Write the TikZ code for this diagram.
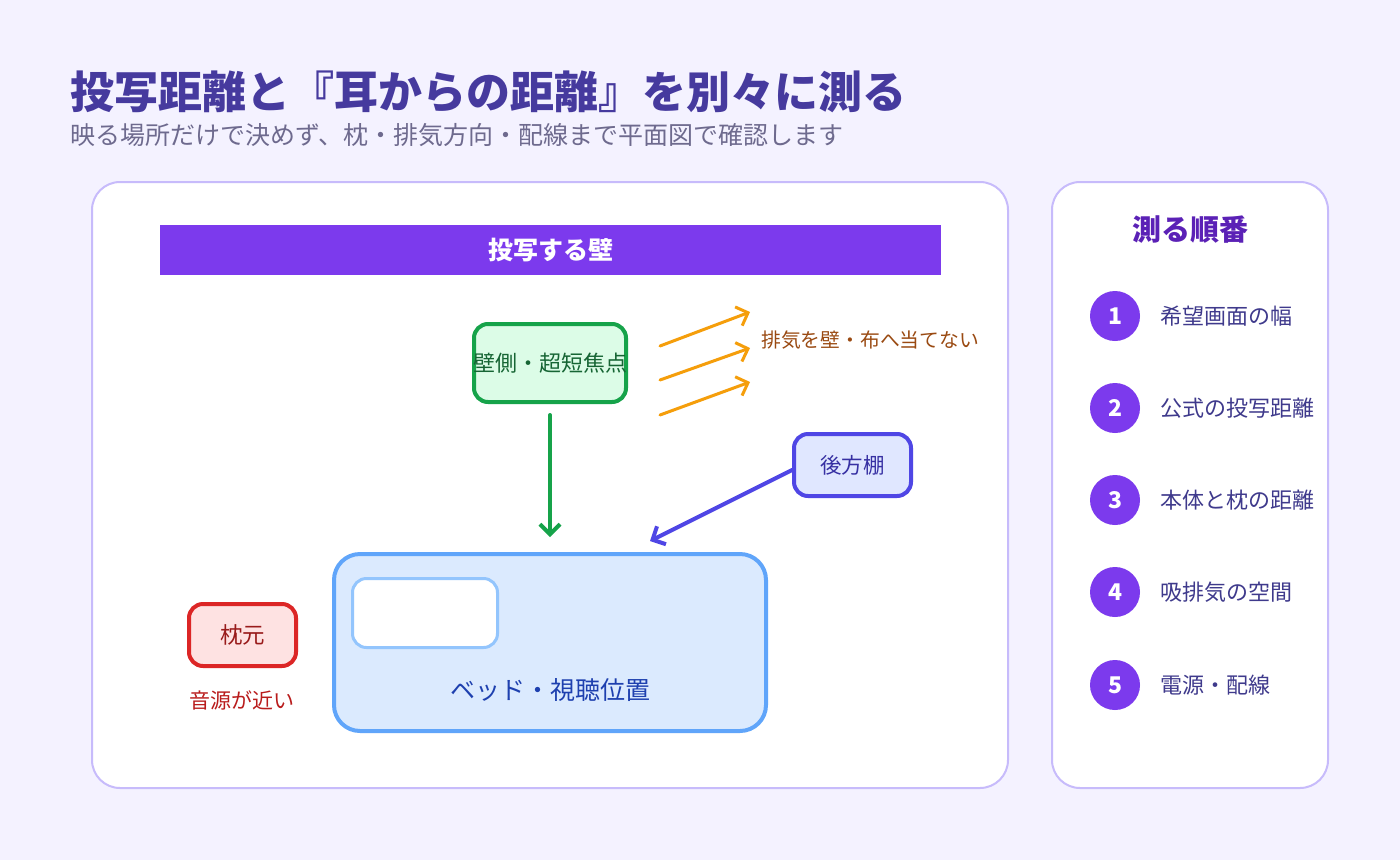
\documentclass[tikz,border=0pt]{standalone}
\usepackage{fontspec}
\setmainfont{Noto Sans CJK JP}
\usetikzlibrary{arrows.meta}
\definecolor{bgc}{HTML}{F4F2FF}
\definecolor{titlec}{HTML}{463A9E}
\definecolor{subc}{HTML}{6E6A8E}
\definecolor{panelc}{HTML}{C7BBFB}
\definecolor{wallc}{HTML}{7C3AED}
\definecolor{gfill}{HTML}{DCFCE7}
\definecolor{gline}{HTML}{16A34A}
\definecolor{gtext}{HTML}{166534}
\definecolor{oline}{HTML}{F59E0B}
\definecolor{otext}{HTML}{9A4A12}
\definecolor{bfill}{HTML}{E0E7FF}
\definecolor{bline}{HTML}{4F46E5}
\definecolor{btext}{HTML}{3730A3}
\definecolor{bedfill}{HTML}{DBEAFE}
\definecolor{bedline}{HTML}{60A5FA}
\definecolor{innerline}{HTML}{93C5FD}
\definecolor{bedtext}{HTML}{1E40AF}
\definecolor{rfill}{HTML}{FEE2E2}
\definecolor{rline}{HTML}{DC2626}
\definecolor{rtext}{HTML}{991B1B}
\definecolor{rlab}{HTML}{B91C1C}
\definecolor{stepc}{HTML}{5B21B6}
\definecolor{itemc}{HTML}{3F3A8C}
\tikzset{
  panel/.style={draw=panelc, line width=2pt, fill=white, rounded corners=28pt, inner sep=0pt},
  box/.style={line width=4pt, rounded corners=14pt, inner sep=0pt, align=center},
  numc/.style={circle, fill=wallc, minimum size=50pt, inner sep=0pt, text=white, font=\bfseries\fontsize{23}{24}\selectfont},
  item/.style={anchor=west, inner sep=0pt, text=itemc, font=\fontsize{22}{24}\selectfont},
  barb/.style={-{Straight Barb[length=10pt, width=20pt]}, line cap=round},
}
\begin{document}
\begin{tikzpicture}[x=1pt, y=-1pt]
\fill[bgc] (0,0) rectangle (1400,860);
\useasboundingbox (0,0) rectangle (1400,860);

\node[anchor=west, inner sep=0pt, text=titlec, font=\bfseries\fontsize{44}{48}\selectfont] (title) at (70,92) {投写距離と『耳からの距離』を別々に測る};
\node[anchor=west, inner sep=0pt, text=subc, font=\fontsize{25}{28}\selectfont] (sub) at (70,135) {映る場所だけで決めず、枕・排気方向・配線まで平面図で確認します};

\node[panel, minimum width=916pt, minimum height=606pt] (main) at (550,485) {};
\node[panel, minimum width=276pt, minimum height=606pt] (side) at (1190,485) {};

\node[fill=wallc, minimum width=781pt, minimum height=50pt, inner sep=0pt, text=white, font=\bfseries\fontsize{25}{27}\selectfont] (wall) at (550.5,250) {投写する壁};

\node[box, draw=gline, fill=gfill, minimum width=152pt, minimum height=78pt] (proj) at (550,363) {};
\node[inner sep=0pt, text=gtext, font=\fontsize{22}{24}\selectfont] (projlab) at (550,363) {壁側・超短焦点};

\coordinate (o1s) at (660,346); \coordinate (o1e) at (750,312);
\coordinate (o2s) at (660,380); \coordinate (o2e) at (750,348);
\coordinate (o3s) at (660,415); \coordinate (o3e) at (750,382);
\draw[barb, draw=oline, line width=3pt] (o1s) -- (o1e);
\draw[barb, draw=oline, line width=3pt] (o2s) -- (o2e);
\draw[barb, draw=oline, line width=3pt] (o3s) -- (o3e);
\node[anchor=west, inner sep=0pt, text=otext, font=\fontsize{19.8}{22}\selectfont] (exh) at (761,340) {排気を壁・布へ当てない};

\node[box, draw=bline, fill=bfill, minimum width=117pt, minimum height=62pt, text=btext, font=\fontsize{21.5}{24}\selectfont] (shelf) at (852.5,465) {後方棚};

\node[box, draw=bedline, fill=bedfill, rounded corners=26pt, minimum width=432pt, minimum height=177pt] (bed) at (550,642.5) {};
\node[draw=innerline, line width=3pt, fill=white, rounded corners=14pt, minimum width=145pt, minimum height=69pt, inner sep=0pt] (pillow) at (425,613) {};
\node[inner sep=0pt, text=bedtext, font=\fontsize{25}{27}\selectfont] (bedlab) at (550,690) {ベッド・視聴位置};

\node[box, draw=rline, fill=rfill, minimum width=107pt, minimum height=62pt, text=rtext, font=\fontsize{22.5}{24}\selectfont] (head) at (242.5,635) {枕元};
\node[inner sep=0pt, text=rlab, font=\fontsize{21}{23}\selectfont] (headlab) at (242,700) {音源が近い};

\draw[barb, draw=gline, line width=4pt, shorten <=11pt, shorten >=15pt] (proj.south) -- (proj.south |- bed.north);
\coordinate (bt) at (650,541);
\draw[barb, draw=bline, line width=4pt] ([yshift=-5pt]shelf.west) -- (bt);

\node[inner sep=0pt, text=stepc, font=\bfseries\fontsize{29}{31}\selectfont] (steps) at (1190,230) {測る順番};
\node[numc] (n1) at (1115,316) {1};
\node[numc] (n2) at (1115,408) {2};
\node[numc] (n3) at (1115,500) {3};
\node[numc] (n4) at (1115,592) {4};
\node[numc] (n5) at (1115,685) {5};
\node[item] (t1) at (1160,316) {希望画面の幅};
\node[item] (t2) at (1160,408) {公式の投写距離};
\node[item] (t3) at (1160,500) {本体と枕の距離};
\node[item] (t4) at (1160,592) {吸排気の空間};
\node[item] (t5) at (1160,685) {電源・配線};
\end{tikzpicture}
\end{document}
